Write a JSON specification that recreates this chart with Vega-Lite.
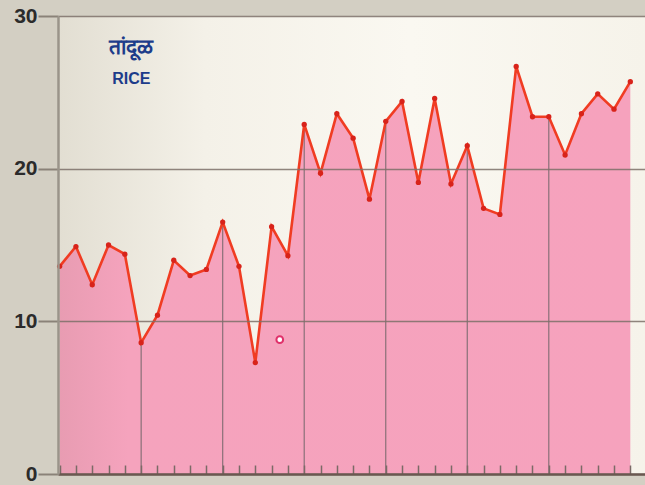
{
  "$schema": "https://vega.github.io/schema/vega-lite/v6.json",
  "width": 587,
  "height": 458,
  "autosize": {"type": "none"},
  "padding": {"left": 58, "top": 16, "right": 0, "bottom": 11},
  "background": "#d3cfc3",
  "config": {
    "view": {"stroke": null, "fill": {"gradient": "linear", "x1": 0, "y1": 0, "x2": 1, "y2": 0, "stops": [{"offset": 0, "color": "#e2ded2"}, {"offset": 0.25, "color": "#f4f1e8"}, {"offset": 0.6, "color": "#faf8f1"}, {"offset": 1, "color": "#f6f3ea"}]}}
  },
  "datasets": {
    "rice": [
      {"i": 0, "v": 13.6}, {"i": 1, "v": 14.9}, {"i": 2, "v": 12.4}, {"i": 3, "v": 15.0},
      {"i": 4, "v": 14.4}, {"i": 5, "v": 8.6}, {"i": 6, "v": 10.4}, {"i": 7, "v": 14.0},
      {"i": 8, "v": 13.0}, {"i": 9, "v": 13.4}, {"i": 10, "v": 16.5}, {"i": 11, "v": 13.6},
      {"i": 12, "v": 7.3}, {"i": 13, "v": 16.2}, {"i": 14, "v": 14.3}, {"i": 15, "v": 22.9},
      {"i": 16, "v": 19.7}, {"i": 17, "v": 23.6}, {"i": 18, "v": 22.0}, {"i": 19, "v": 18.0},
      {"i": 20, "v": 23.1}, {"i": 21, "v": 24.4}, {"i": 22, "v": 19.1}, {"i": 23, "v": 24.6},
      {"i": 24, "v": 19.0}, {"i": 25, "v": 21.5}, {"i": 26, "v": 17.4}, {"i": 27, "v": 17.0},
      {"i": 28, "v": 26.7}, {"i": 29, "v": 23.4}, {"i": 30, "v": 23.4}, {"i": 31, "v": 20.9},
      {"i": 32, "v": 23.6}, {"i": 33, "v": 24.9}, {"i": 34, "v": 23.9}, {"i": 35, "v": 25.7}
    ],
    "marker": [{"i": 13.5, "v": 8.8}],
    "labels": [
      {"t": "तांदूळ", "i": 4.4, "v": 27.9, "s": 21},
      {"t": "RICE", "i": 4.4, "v": 25.9, "s": 16}
    ]
  },
  "layer": [
    {
      "data": {"name": "rice"},
      "mark": {"type": "area", "opacity": 1, "color": {"gradient": "linear", "x1": 0, "y1": 0, "x2": 1, "y2": 0, "stops": [{"offset": 0, "color": "#e89cb2"}, {"offset": 0.12, "color": "#f5a3bd"}, {"offset": 1, "color": "#f6a2bd"}]}},
      "encoding": {
        "x": {
          "field": "i", "type": "quantitative",
          "scale": {"domain": [-0.1, 35.9], "nice": false, "zero": false},
          "axis": {
            "title": null, "labels": false, "labelOverlap": false, "tickCount": 36,
            "values": [0,1,2,3,4,5,6,7,8,9,10,11,12,13,14,15,16,17,18,19,20,21,22,23,24,25,26,27,28,29,30,31,32,33,34,35],
            "tickSize": -9, "tickColor": "#7a6a66", "tickWidth": 1.5,
            "domainColor": "#6a5850", "domainWidth": 2.5,
            "grid": false,
            "zindex": 1
          }
        },
        "y": {
          "field": "v", "type": "quantitative",
          "scale": {"domain": [0, 30], "nice": false},
          "axis": {
            "title": null, "values": [0, 10, 20, 30],
            "tickSize": 20, "tickColor": "#8a8278", "tickWidth": 2,
            "labelFont": "Liberation Sans", "labelFontWeight": "bold", "labelFontSize": 21,
            "labelColor": "#2b2b2b", "labelPadding": 1,
            "domainColor": "#9a948a", "domainWidth": 2.5,
            "grid": true, "gridColor": "#7d7068", "gridWidth": 1.3, "gridOpacity": 0.85,
            "zindex": 1
          }
        }
      }
    },
    {
      "data": {"name": "rice"},
      "transform": [{"filter": "datum.i % 5 === 0 && datum.i > 0 && datum.i < 35"}],
      "mark": {"type": "rule", "color": "#7d6a70", "strokeWidth": 1.2, "opacity": 0.9},
      "encoding": {
        "x": {"field": "i", "type": "quantitative"},
        "y": {"field": "v", "type": "quantitative"},
        "y2": {"datum": 0}
      }
    },
    {
      "data": {"name": "rice"},
      "mark": {"type": "line", "color": "#f03c22", "strokeWidth": 2.6},
      "encoding": {
        "x": {"field": "i", "type": "quantitative"},
        "y": {"field": "v", "type": "quantitative"}
      }
    },
    {
      "data": {"name": "rice"},
      "mark": {"type": "circle", "color": "#d8231a", "size": 28, "opacity": 1},
      "encoding": {
        "x": {"field": "i", "type": "quantitative"},
        "y": {"field": "v", "type": "quantitative"}
      }
    },
    {
      "data": {"name": "marker"},
      "mark": {"type": "point", "filled": false, "stroke": "#e0306a", "fill": "#ffffff", "fillOpacity": 1, "strokeWidth": 2, "size": 45},
      "encoding": {
        "x": {"field": "i", "type": "quantitative"},
        "y": {"field": "v", "type": "quantitative"}
      }
    },
    {
      "data": {"name": "labels"},
      "mark": {"type": "text", "color": "#1d3c8a", "fontWeight": "bold", "font": "Liberation Sans", "align": "center", "baseline": "middle"},
      "encoding": {
        "x": {"field": "i", "type": "quantitative"},
        "y": {"field": "v", "type": "quantitative"},
        "text": {"field": "t"},
        "size": {"field": "s", "type": "quantitative", "scale": null}
      }
    }
  ]
}
